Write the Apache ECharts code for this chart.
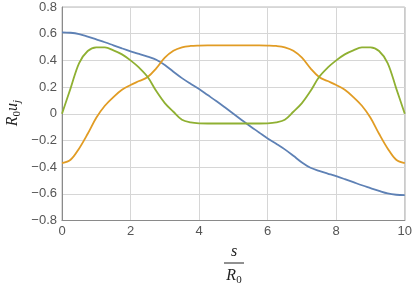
<!DOCTYPE html>
<html>
<head>
<meta charset="utf-8">
<script src="https://cdn.jsdelivr.net/npm/echarts@6/dist/echarts.min.js"></script>
<style>html,body{margin:0;padding:0;background:#fff}#c{width:415px;height:284px}</style>
</head>
<body>
<div id="c"></div>
<script>
const sValues = [0,0.25,0.5,0.75,1,1.25,1.5,1.75,2,2.25,2.5,2.75,3,3.25,3.5,3.75,4,4.25,4.5,4.75,5,
  5.25,5.5,5.75,6,6.25,6.5,6.75,7,7.25,7.5,7.75,8,8.25,8.5,8.75,9,9.25,9.5,9.75,10];
const blueU = [0.61,0.607,0.597,0.578,0.557,0.536,0.513,0.49,0.468,0.448,0.428,0.405,0.365,0.315,0.267,0.225,0.185,0.14,0.095,0.048,0.0,
  -0.048,-0.095,-0.14,-0.185,-0.225,-0.267,-0.315,-0.365,-0.405,-0.428,-0.448,-0.468,-0.49,-0.513,-0.536,-0.557,-0.578,-0.597,-0.607,-0.61];
const orangeU = [-0.37,-0.345,-0.26,-0.15,-0.03,0.06,0.125,0.18,0.215,0.245,0.275,0.34,0.42,0.472,0.498,0.508,0.511,0.512,0.512,0.512,0.512,
  0.512,0.512,0.512,0.511,0.508,0.498,0.472,0.42,0.34,0.275,0.245,0.215,0.18,0.125,0.06,-0.03,-0.15,-0.26,-0.345,-0.37];
const greenU = [0.0,0.19,0.38,0.47,0.498,0.497,0.475,0.445,0.40,0.345,0.275,0.17,0.08,0.015,-0.045,-0.065,-0.072,-0.073,-0.073,-0.073,-0.073,
  -0.073,-0.073,-0.073,-0.072,-0.065,-0.045,0.015,0.08,0.17,0.275,0.345,0.40,0.445,0.475,0.497,0.498,0.47,0.38,0.19,0.0];
const xTicks = [0,2,4,6,8,10];
const yTicks = [-0.8,-0.6,-0.4,-0.2,0,0.2,0.4,0.6,0.8];

const pair = arr => sValues.map((s,i)=>[s,arr[i]]);
const chart = echarts.init(document.getElementById('c'), null, {renderer:'canvas'});
const lineSeries = (data,color) => ({type:'line',data:pair(data),smooth:0.35,showSymbol:false,symbol:'none',
  lineStyle:{color:color,width:1.8},z:3});
chart.setOption({
  animation:false,
  backgroundColor:'#fff',
  grid:{left:62,right:9,top:7,bottom:63.5,show:true,borderColor:'#b8b8b8',borderWidth:1,backgroundColor:'transparent'},
  xAxis:{type:'value',min:0,max:10,interval:2,
    axisLine:{show:true,onZero:false,lineStyle:{color:'#8a8a8a',width:1}},
    axisTick:{show:false},
    splitLine:{show:true,lineStyle:{color:'#d6d6d6',width:1}},
    axisLabel:{color:'#555',fontSize:13,fontFamily:'Liberation Sans, Arial',margin:4,
      formatter:v=>xTicks.includes(v)?String(v):''}},
  yAxis:{type:'value',min:-0.8,max:0.8,interval:0.2,
    axisLine:{show:true,onZero:false,lineStyle:{color:'#8a8a8a',width:1}},
    axisTick:{show:false},
    splitLine:{show:true,lineStyle:{color:'#d6d6d6',width:1}},
    axisLabel:{color:'#555',fontSize:13,fontFamily:'Liberation Sans, Arial',margin:5,
      formatter:v=>{const r=Math.round(v*10)/10; if(r===0) return '0'; return (r<0?'\u2212':'')+Math.abs(r).toFixed(1);}}},
  series:[lineSeries(blueU,'#5E81B5'),lineSeries(orangeU,'#E19C24'),lineSeries(greenU,'#8FB032')],
  graphic:[
    {type:'text',x:13,y:113,rotation:Math.PI/2,
      style:{text:'{i|R}{s|0}{i|u}{t|j}',align:'center',verticalAlign:'middle',
        rich:{i:{fontFamily:'Liberation Serif',fontStyle:'italic',fontSize:16,fill:'#222',verticalAlign:'middle'},
              s:{fontFamily:'Liberation Serif',fontSize:11,fill:'#222',padding:[8,0,0,0]},
              t:{fontFamily:'Liberation Serif',fontStyle:'italic',fontSize:11,fill:'#222',padding:[8,0,0,0]}}}},
    {type:'text',x:234,y:252,style:{text:'s',align:'center',verticalAlign:'middle',
      fontFamily:'Liberation Serif',fontStyle:'italic',fontSize:16,fill:'#222'}},
    {type:'line',shape:{x1:224,y1:263,x2:244,y2:263},style:{stroke:'#222',lineWidth:1}},
    {type:'text',x:234,y:276,style:{text:'{i|R}{s|0}',align:'center',verticalAlign:'middle',
      rich:{i:{fontFamily:'Liberation Serif',fontStyle:'italic',fontSize:16,fill:'#222'},
            s:{fontFamily:'Liberation Serif',fontSize:11,fill:'#222',padding:[8,0,0,0]}}}}
  ]
});
</script>
</body>
</html>
